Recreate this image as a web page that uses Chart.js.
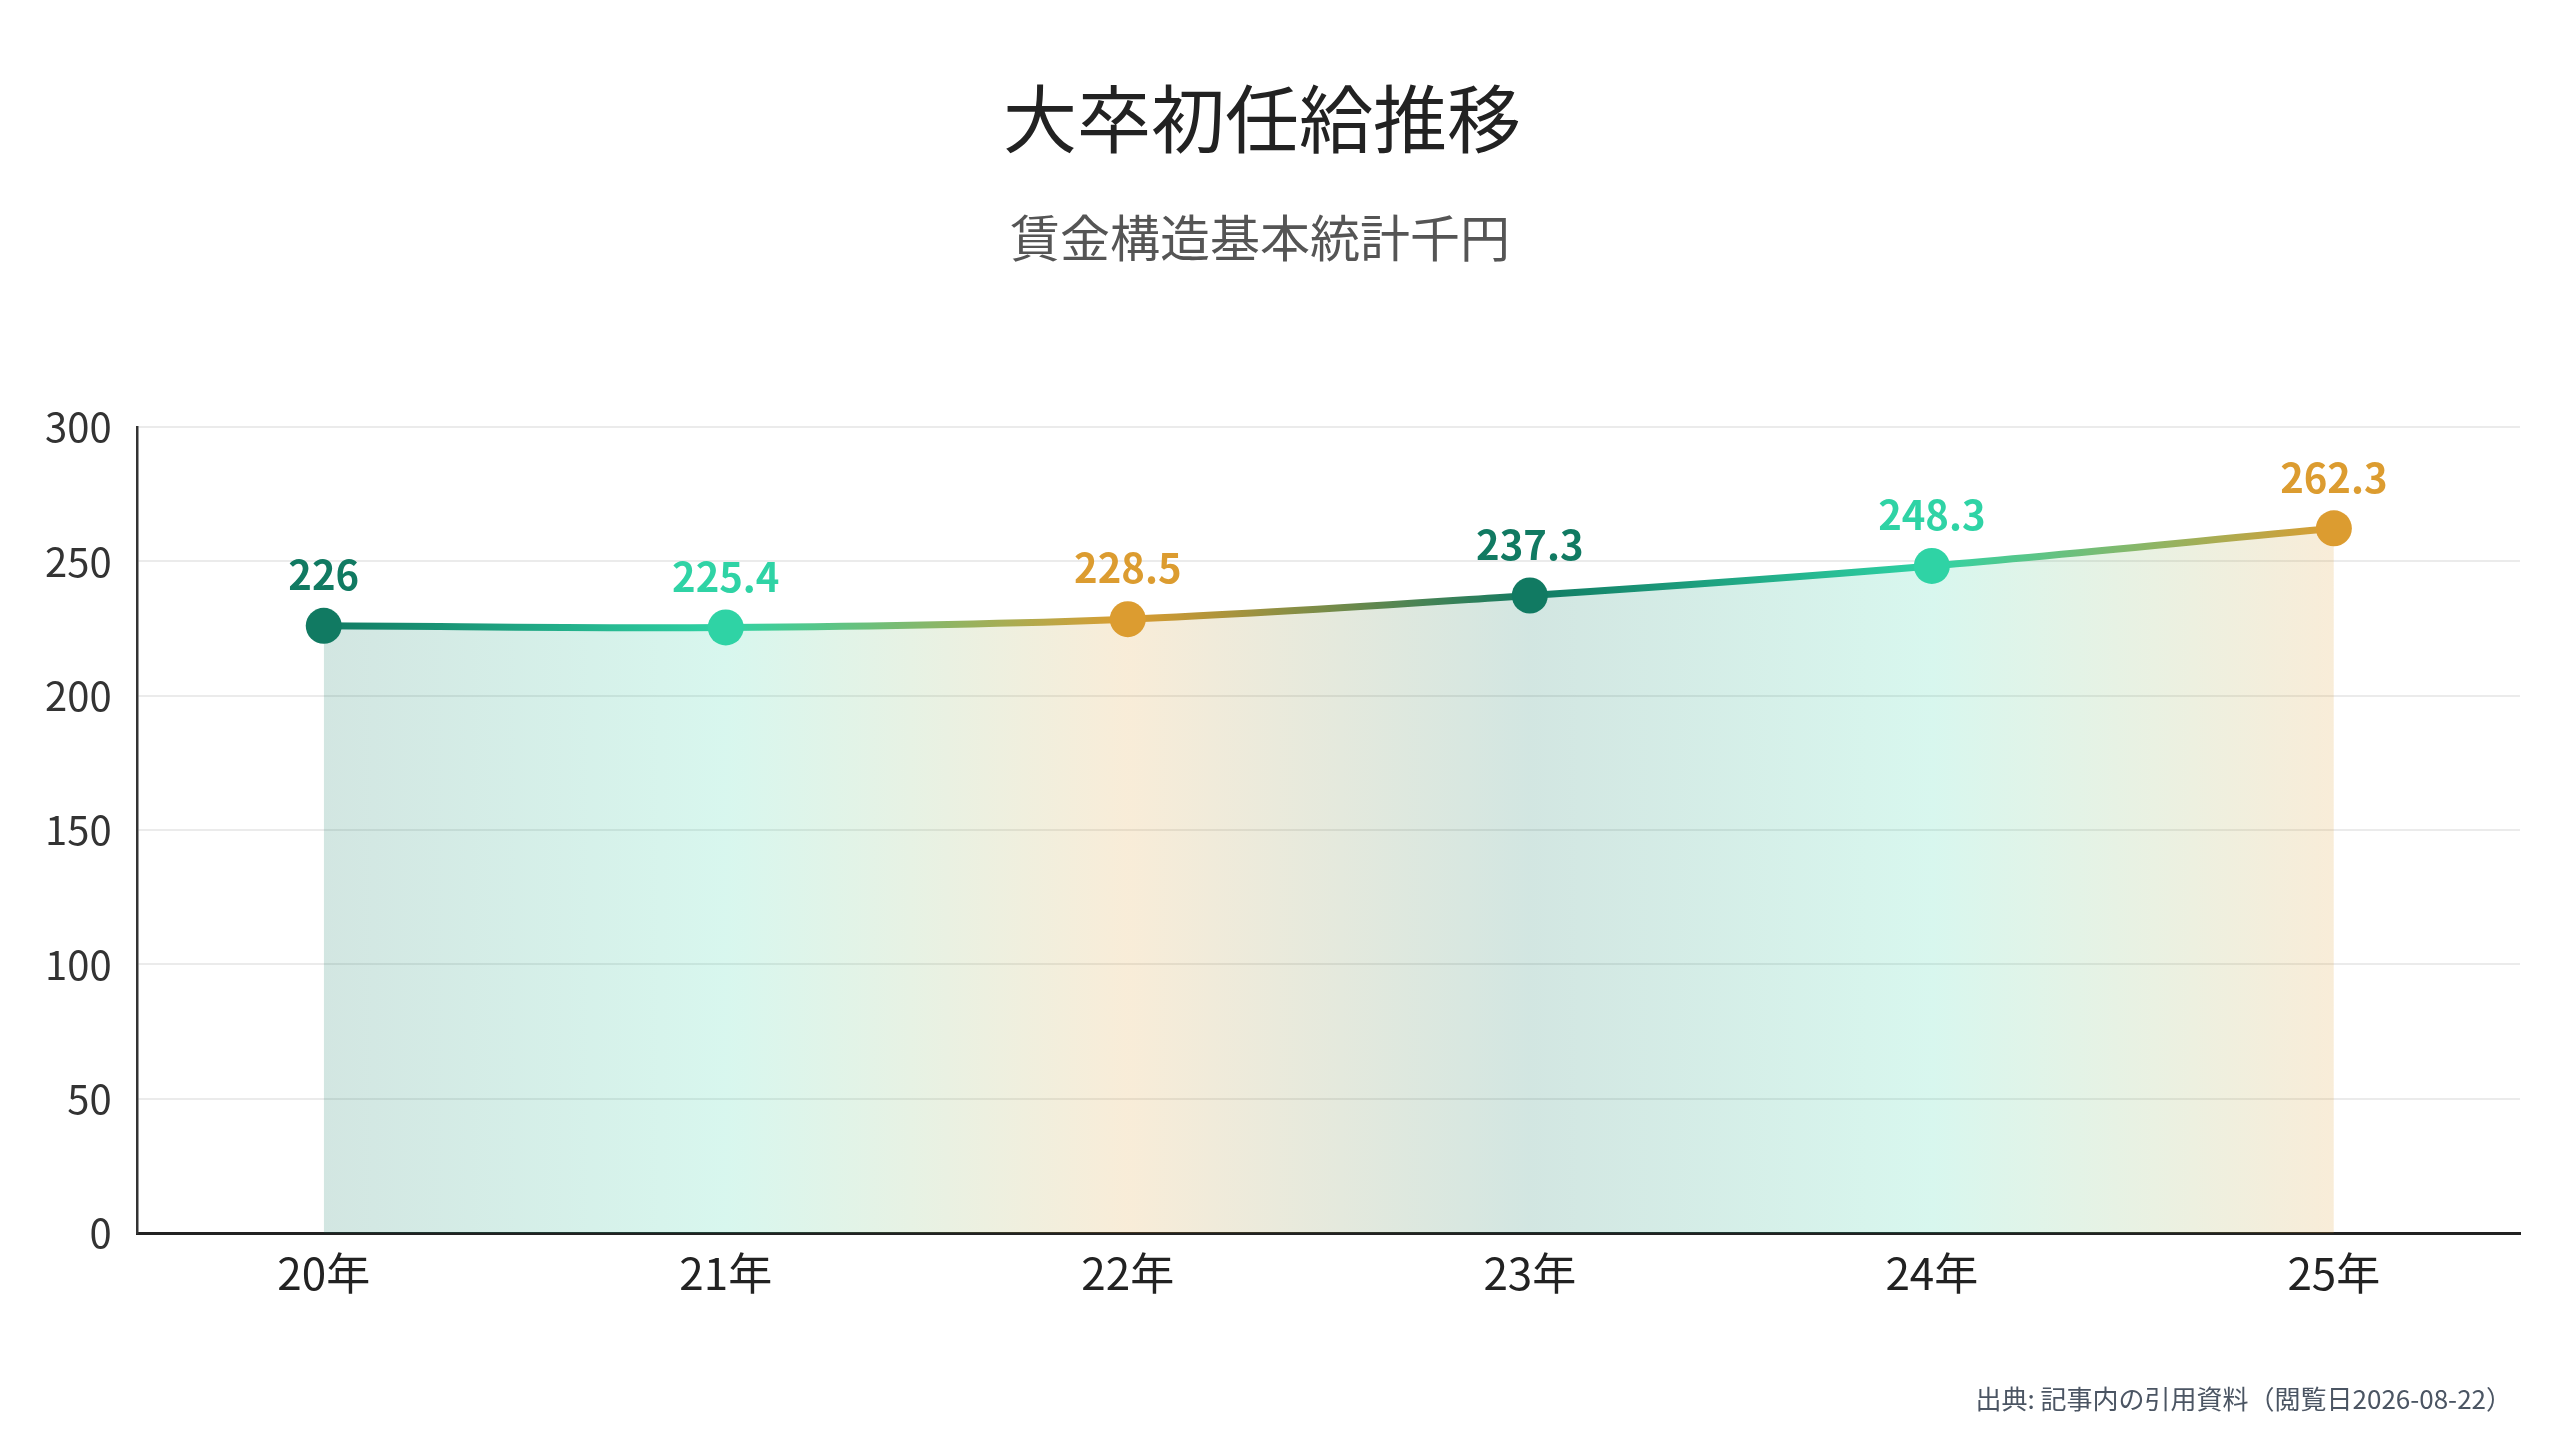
<!DOCTYPE html>
<html lang="ja">
<head>
<meta charset="utf-8">
<script src="https://cdn.jsdelivr.net/npm/chart.js@4.4.1/dist/chart.umd.min.js"></script>
<style>
  html, body { margin: 0; padding: 0; background: #ffffff; }
  #wrap { width: 2560px; height: 1440px; }
</style>
</head>
<body>
<div id="wrap"><canvas id="c" width="2560" height="1440"></canvas></div>
<script>
const categories = ["20年", "21年", "22年", "23年", "24年", "25年"];
const salaryValues = [226, 225.4, 228.5, 237.3, 248.3, 262.3];
const valueLabels = ["226", "225.4", "228.5", "237.3", "248.3", "262.3"];
const yTicks = [0, 50, 100, 150, 200, 250, 300];
const pointColors = ["#117a62", "#2fd3a5", "#dc9c30", "#117a62", "#2fd3a5", "#dc9c30"];
const titleText = "大卒初任給推移";
const subtitleText = "賃金構造基本統計千円";
const footerText = "出典: 記事内の引用資料（閲覧日2026-08-22）";

const FONT = "'Noto Sans CJK JP', 'Noto Sans', sans-serif";

function hexToRgba(hex, a) {
  const n = parseInt(hex.slice(1), 16);
  return `rgba(${(n >> 16) & 255},${(n >> 8) & 255},${n & 255},${a})`;
}

function makeGradient(chart, alpha) {
  const xs = chart.scales.x;
  if (!xs || !chart.chartArea) return pointColors[0];
  const x0 = xs.getPixelForValue(0);
  const x1 = xs.getPixelForValue(categories.length - 1);
  const g = chart.ctx.createLinearGradient(x0, 0, x1, 0);
  pointColors.forEach((c, i) => {
    g.addColorStop(i / (pointColors.length - 1), alpha >= 1 ? c : hexToRgba(c, alpha));
  });
  return g;
}

const valueLabelPlugin = {
  id: 'valueLabels',
  afterDatasetsDraw(chart) {
    const ctx = chart.ctx;
    const meta = chart.getDatasetMeta(0);
    ctx.save();
    ctx.font = `bold 40px ${FONT}`;
    ctx.textAlign = 'center';
    ctx.textBaseline = 'middle';
    meta.data.forEach((pt, i) => {
      ctx.fillStyle = pointColors[i];
      ctx.fillText(valueLabels[i], pt.x, pt.y - 51);
    });
    ctx.restore();
  }
};

const textPlugin = {
  id: 'headerFooter',
  afterDraw(chart) {
    const ctx = chart.ctx;
    ctx.save();
    ctx.textAlign = 'center';
    ctx.textBaseline = 'middle';
    ctx.font = `74px ${FONT}`;
    ctx.fillStyle = '#222222';
    ctx.fillText(titleText, 1262, 119);
    ctx.font = `50px ${FONT}`;
    ctx.fillStyle = '#555555';
    ctx.fillText(subtitleText, 1260, 238);
    ctx.font = `26px ${FONT}`;
    ctx.fillStyle = '#4b5563';
    ctx.textAlign = 'right';
    ctx.fillText(footerText, 2512, 1399);
    ctx.restore();
  }
};

new Chart(document.getElementById('c'), {
  type: 'line',
  data: {
    datasets: [{
      data: salaryValues.map((v, i) => ({ x: i, y: v })),
      borderColor: (ctx) => makeGradient(ctx.chart, 1),
      backgroundColor: (ctx) => makeGradient(ctx.chart, 0.19),
      fill: 'origin',
      borderWidth: 7,
      tension: 0.35,
      pointRadius: 18,
      pointHoverRadius: 18,
      pointBorderWidth: 0,
      pointBackgroundColor: pointColors,
      pointBorderColor: pointColors
    }]
  },
  options: {
    responsive: false,
    animation: false,
    devicePixelRatio: 1,
    layout: { padding: { left: 19, right: 40, top: 427, bottom: 126 } },
    plugins: {
      legend: { display: false },
      tooltip: { enabled: false },
      title: { display: false },
      subtitle: { display: false }
    },
    scales: {
      x: {
        type: 'linear',
        min: -0.463,
        max: categories.length - 1 + 0.463,
        afterBuildTicks: (s) => { s.ticks = categories.map((_, i) => ({ value: i })); },
        grid: { display: false, drawTicks: false },
        border: { display: true, color: '#222222', width: 3 },
        ticks: {
          padding: 14,
          color: '#222222',
          font: { family: FONT, size: 44 },
          callback: (v) => categories[v] ?? ''
        }
      },
      y: {
        min: 0,
        max: 300,
        afterBuildTicks: (s) => { s.ticks = yTicks.map(v => ({ value: v })); },
        grid: { color: '#ebebeb', lineWidth: 2, drawTicks: false },
        border: { display: true, color: '#333333', width: 2.5 },
        ticks: {
          padding: 26,
          color: '#333333',
          font: { family: FONT, size: 40 }
        }
      }
    }
  },
  plugins: [valueLabelPlugin, textPlugin]
});
</script>
</body>
</html>
